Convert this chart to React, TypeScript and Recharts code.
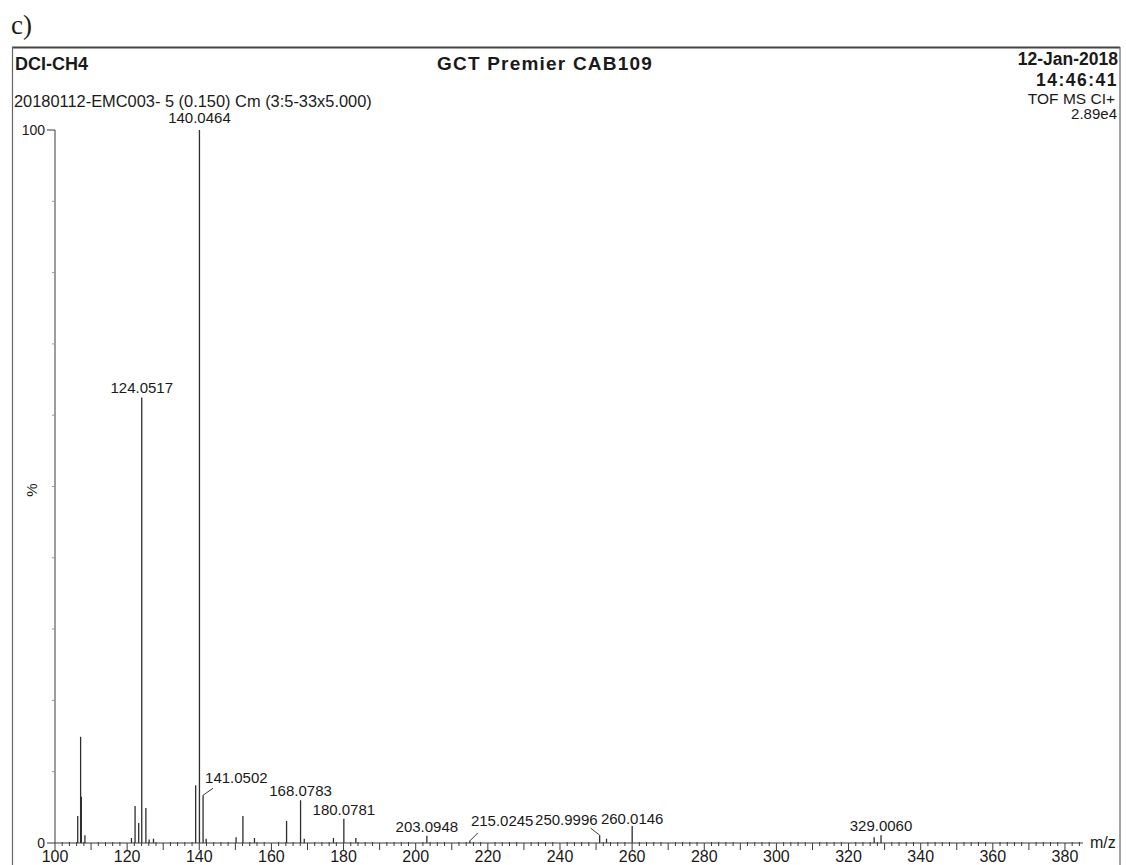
import React from 'react';
import { ComposedChart, Scatter, ErrorBar, XAxis, YAxis } from 'recharts';

// peaks (m/z, relative intensity %)
const peakMz = [
  106.3, 107.1, 107.3, 108.3, 121.2, 122.2, 123.2, 124.0517, 125.2, 126.1, 127.3,
  139.0, 140.0464, 141.0502, 141.9, 150.2, 152.1, 155.3, 164.2, 168.0783, 169.1,
  177.2, 180.0781, 183.4, 203.0948, 215.0245, 250.9996, 252.9, 260.0146, 327.1, 329.006,
];
const peakIntensity = [
  3.8, 14.9, 6.5, 1.1, 0.7, 5.2, 2.8, 62.5, 4.9, 0.5, 0.6,
  8.1, 100, 6.7, 0.6, 0.8, 3.8, 0.7, 3.1, 6.0, 0.6,
  0.7, 3.4, 0.7, 1.0, 0.3, 1.1, 0.6, 2.4, 0.8, 1.1,
];
const labelledMz = [
  124.0517, 140.0464, 141.0502, 168.0783, 180.0781, 203.0948, 215.0245, 250.9996, 260.0146, 329.006,
];
const xTickLabels = [100, 120, 140, 160, 180, 200, 220, 240, 260, 280, 300, 320, 340, 360, 380];
const yTickLabels = [0, 100];

const peaks = peakMz.map((mz, i) => ({
  mz,
  intensity: peakIntensity[i],
  label: labelledMz.includes(mz) ? mz.toFixed(4) : '',
}));

const xTicks: number[] = [];
for (let v = 100; v <= 384; v += 2) xTicks.push(v);
const yTicks: number[] = [];
for (let v = 0; v <= 100; v += 10) yTicks.push(v);

const FONT = '"Liberation Sans", Arial, sans-serif';
const INK = '#1a1a1a';
const LINE = '#3a3a3a';

// where each peak label sits relative to the peak top
const labelPos: Record<string, { anchor: 'start' | 'middle' | 'end'; dx: number; dy: number; leader?: [number, number] }> = {
  '124.0517': { anchor: 'middle', dx: 0, dy: -4 },
  '140.0464': { anchor: 'middle', dx: 0, dy: -7 },
  '141.0502': { anchor: 'start', dx: 2, dy: -12, leader: [10, -7] },
  '168.0783': { anchor: 'middle', dx: 0, dy: -4 },
  '180.0781': { anchor: 'middle', dx: 0, dy: -4 },
  '203.0948': { anchor: 'middle', dx: 0, dy: -4 },
  '215.0245': { anchor: 'start', dx: 1, dy: -15, leader: [8, -8] },
  '250.9996': { anchor: 'end', dx: -2, dy: -10, leader: [-9, -7] },
  '260.0146': { anchor: 'middle', dx: 0, dy: -2 },
  '329.0060': { anchor: 'middle', dx: 0, dy: -4 },
};

const PeakLabel = (props: any) => {
  const { cx, cy, payload } = props;
  if (!payload || !payload.label) return <g />;
  const p = labelPos[payload.label];
  return (
    <g>
      {p.leader && (
        <line x1={cx} y1={cy} x2={cx + p.leader[0]} y2={cy + p.leader[1]} stroke={LINE} strokeWidth={1} />
      )}
      <text x={cx + p.dx} y={cy + p.dy} textAnchor={p.anchor} fontSize={15} fontFamily={FONT} fill={INK}>
        {payload.label}
      </text>
    </g>
  );
};

const XTick = (props: any) => {
  const { x, y, payload } = props;
  const v = payload.value;
  const major = v % 10 === 0;
  return (
    <g>
      <line x1={x} x2={x} y1={major ? y : y - 1} y2={major ? y + 7 : y + 3} stroke={LINE} strokeWidth={1} />
      {xTickLabels.includes(v) && (
        <text x={x} y={y + 19} textAnchor="middle" fontSize={16} fontFamily={FONT} fill={INK}>
          {v}
        </text>
      )}
    </g>
  );
};

const YTick = (props: any) => {
  const { x, y, payload } = props;
  const v = payload.value;
  if (yTickLabels.includes(v)) {
    return (
      <g>
        <line x1={x - 8} x2={x} y1={y} y2={y} stroke={LINE} strokeWidth={1} />
        <text x={x - 10} y={y + 5} textAnchor="end" fontSize={14} fontFamily={FONT} fill={INK}>
          {v}
        </text>
      </g>
    );
  }
  return <line x1={x - 3} x2={x} y1={y} y2={y} stroke="#999" strokeWidth={1} />;
};

export default function App() {
  return (
    <div style={{ position: 'absolute', left: 0, top: 0, width: 1126, height: 865, background: '#fff', overflow: 'hidden' }}>
      <ComposedChart
        width={1126}
        height={865}
        data={peaks}
        margin={{ top: 130, right: 43, bottom: 0, left: 0 }}
      >
        <XAxis
          type="number"
          dataKey="mz"
          domain={[100, 385]}
          ticks={xTicks}
          interval={0}
          height={22}
          tickSize={0}
          tickMargin={0}
          tickLine={false}
          axisLine={{ stroke: LINE, strokeWidth: 1 }}
          tick={<XTick />}
        />
        <YAxis
          type="number"
          dataKey="intensity"
          domain={[0, 100]}
          ticks={yTicks}
          interval={0}
          width={55}
          tickSize={0}
          tickMargin={0}
          tickLine={false}
          axisLine={{ stroke: LINE, strokeWidth: 1 }}
          tick={<YTick />}
        />
        <Scatter dataKey="intensity" shape={<PeakLabel />} isAnimationActive={false}>
          <ErrorBar
            dataKey={(d: any) => [d.intensity, 0]}
            direction="y"
            width={0}
            stroke="#2e2e2e"
            strokeWidth={1.3}
            isAnimationActive={false}
          />
        </Scatter>
      </ComposedChart>
      <svg width={1126} height={865} style={{ position: 'absolute', left: 0, top: 0, pointerEvents: 'none' }}>
        <text x={11} y={34} fontSize={27} fontFamily='"Liberation Serif", "Times New Roman", serif' fill={INK}>
          c)
        </text>
        <line x1={12} y1={47.5} x2={1120} y2={47.5} stroke="#444" strokeWidth={2} />
        <line x1={12.5} y1={47} x2={12.5} y2={865} stroke="#666" strokeWidth={1.2} />
        <line x1={1120} y1={47} x2={1120} y2={865} stroke="#666" strokeWidth={1.2} />
        <text x={15} y={70} fontSize={18} fontWeight="bold" fontFamily={FONT} fill={INK}>
          DCI-CH4
        </text>
        <text x={545} y={70} fontSize={19} fontWeight="bold" letterSpacing={1.2} textAnchor="middle" fontFamily={FONT} fill={INK}>
          GCT Premier CAB109
        </text>
        <text x={1118} y={65} fontSize={17.5} fontWeight="bold" textAnchor="end" fontFamily={FONT} fill={INK}>
          12-Jan-2018
        </text>
        <text x={1118} y={86} fontSize={17.5} fontWeight="bold" textAnchor="end" letterSpacing={1.5} fontFamily={FONT} fill={INK}>
          14:46:41
        </text>
        <text x={1115} y={104} fontSize={15.5} textAnchor="end" fontFamily={FONT} fill={INK}>
          TOF MS CI+
        </text>
        <text x={1117} y={119} fontSize={15} textAnchor="end" fontFamily={FONT} fill={INK}>
          2.89e4
        </text>
        <text x={14} y={107} fontSize={16.4} fontFamily={FONT} fill={INK}>
          20180112-EMC003- 5 (0.150) Cm (3:5-33x5.000)
        </text>
        <text x={37} y={490} fontSize={15} textAnchor="middle" fontFamily={FONT} fill={INK} transform="rotate(-90 37 490)">
          %
        </text>
        <text x={1090} y={848} fontSize={16} fontFamily={FONT} fill={INK}>
          m/z
        </text>
      </svg>
    </div>
  );
}
